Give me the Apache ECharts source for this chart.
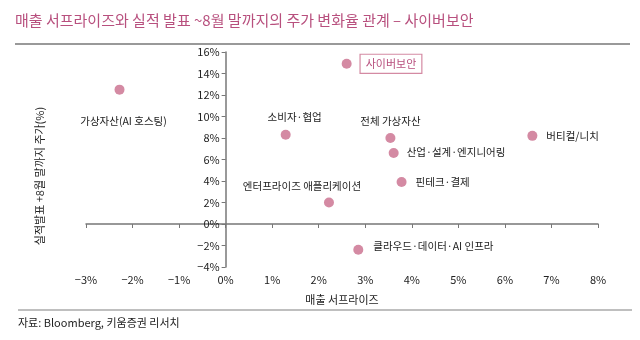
<!DOCTYPE html>
<html><head><meta charset="utf-8">
<script src="https://cdn.jsdelivr.net/npm/echarts@6/dist/echarts.min.js"></script>
<style>html,body{margin:0;padding:0;background:#fff}#c{width:640px;height:340px}</style>
</head><body><div id="c"></div>
<script>
const names = ['가상자산(AI 호스팅)','사이버보안','소비자·협업','전체 가상자산','산업·설계·엔지니어링','핀테크·결제','버티컬/니치','엔터프라이즈 애플리케이션','클라우드·데이터·AI 인프라'];
const surprise = [-2.28, 2.60, 1.29, 3.54, 3.61, 3.78, 6.59, 2.22, 2.85];
const priceChange = [12.5, 14.9, 8.3, 8.0, 6.6, 3.9, 8.2, 2.0, -2.4];
const xTicks = [-3,-2,-1,0,1,2,3,4,5,6,7,8];
const yTicks = [-4,-2,0,2,4,6,8,10,12,14,16];

const labelOffsets = [[4,31,'center'],[14,0,'left'],[9,-18,'center'],[0,-17,'center'],[13,-1,'left'],[14,0,'left'],[14,0,'left'],[-27,-16,'center'],[15,-4,'left']];
const FONT = '"Noto Sans CJK KR", sans-serif';
const pointColor = '#d48aa3';
const accent = '#b8507e';
const pct = v => (v < 0 ? '\u2212' + Math.abs(v) : v) + '%';

const GRID_L = 86, GRID_R = 42, W = 640;
const plotW = W - GRID_L - GRID_R;
const zeroShift = plotW * (0 - xTicks[0]) / (xTicks[xTicks.length-1] - xTicks[0]);

const data = names.map((n,i)=>{
  const o = labelOffsets[i];
  const lab = {show:true, position:'inside', offset:[o[0],o[1]], align:o[2], verticalAlign:'middle', formatter:n, color:'#222', fontSize:10.5, fontFamily:FONT};
  if (n === '사이버보안') {
    Object.assign(lab, {color: accent, fontSize:11, borderColor: '#d48aa3', borderWidth: 1.2, padding:[4,5,3,5], backgroundColor:'#fff'});
  }
  return {value:[surprise[i], priceChange[i]], name:n, label:lab};
});

const chart = echarts.init(document.getElementById('c'));
chart.setOption({
  animation:false,
  textStyle:{fontFamily:FONT},
  grid:{left:GRID_L, right:GRID_R, top:52, bottom:73},
  graphic:[
    {type:'text', left:15, top:13, style:{text:'매출 서프라이즈와 실적 발표 ~8월 말까지의 주가 변화율 관계 – 사이버보안', fill:accent, fontSize:15, fontFamily:FONT}},
    {type:'line', shape:{x1:15, y1:44, x2:630, y2:44}, style:{stroke:'#999', lineWidth:2}},
    {type:'line', shape:{x1:18, y1:310, x2:632, y2:310}, style:{stroke:'#aaa', lineWidth:1.5}},
    {type:'text', left:18, top:317, style:{text:'자료: Bloomberg, 키움증권 리서치', fill:'#222', fontSize:11, fontFamily:FONT}},
    {type:'text', x:40, y:176, rotation:Math.PI/2, style:{text:'실적발표 +8월 말까지 주가(%)', fill:'#222', fontSize:11, fontFamily:FONT, align:'center', verticalAlign:'middle'}}
  ],
  xAxis:[
    {type:'value', min:xTicks[0], max:xTicks[xTicks.length-1], interval:1,
     axisLine:{onZero:true, lineStyle:{color:'#777', width:1.5}},
     axisTick:{show:true, inside:false, length:4, lineStyle:{color:'#777'}},
     axisLabel:{show:false}, splitLine:{show:false}},
    {type:'value', min:xTicks[0], max:xTicks[xTicks.length-1], interval:1, position:'bottom',
     axisLine:{show:false, onZero:false}, axisTick:{show:false}, splitLine:{show:false},
     axisLabel:{margin:7, color:'#222', fontSize:11, fontFamily:FONT, formatter:pct},
     name:'매출 서프라이즈', nameLocation:'middle', nameGap:27,
     nameTextStyle:{color:'#222', fontSize:11, fontFamily:FONT}}
  ],
  yAxis:{type:'value', min:yTicks[0], max:yTicks[yTicks.length-1], interval:2,
     position:'left', offset:-zeroShift,
     axisLine:{onZero:false, lineStyle:{color:'#777', width:1.5}},
     axisTick:{show:true, length:4, lineStyle:{color:'#777'}},
     axisLabel:{margin:6, color:'#222', fontSize:11, fontFamily:FONT, formatter:pct},
     splitLine:{show:false}},
  series:[{type:'scatter', xAxisIndex:0, symbolSize:10, itemStyle:{color:pointColor, opacity:1}, data:data}]
});
</script></body></html>
